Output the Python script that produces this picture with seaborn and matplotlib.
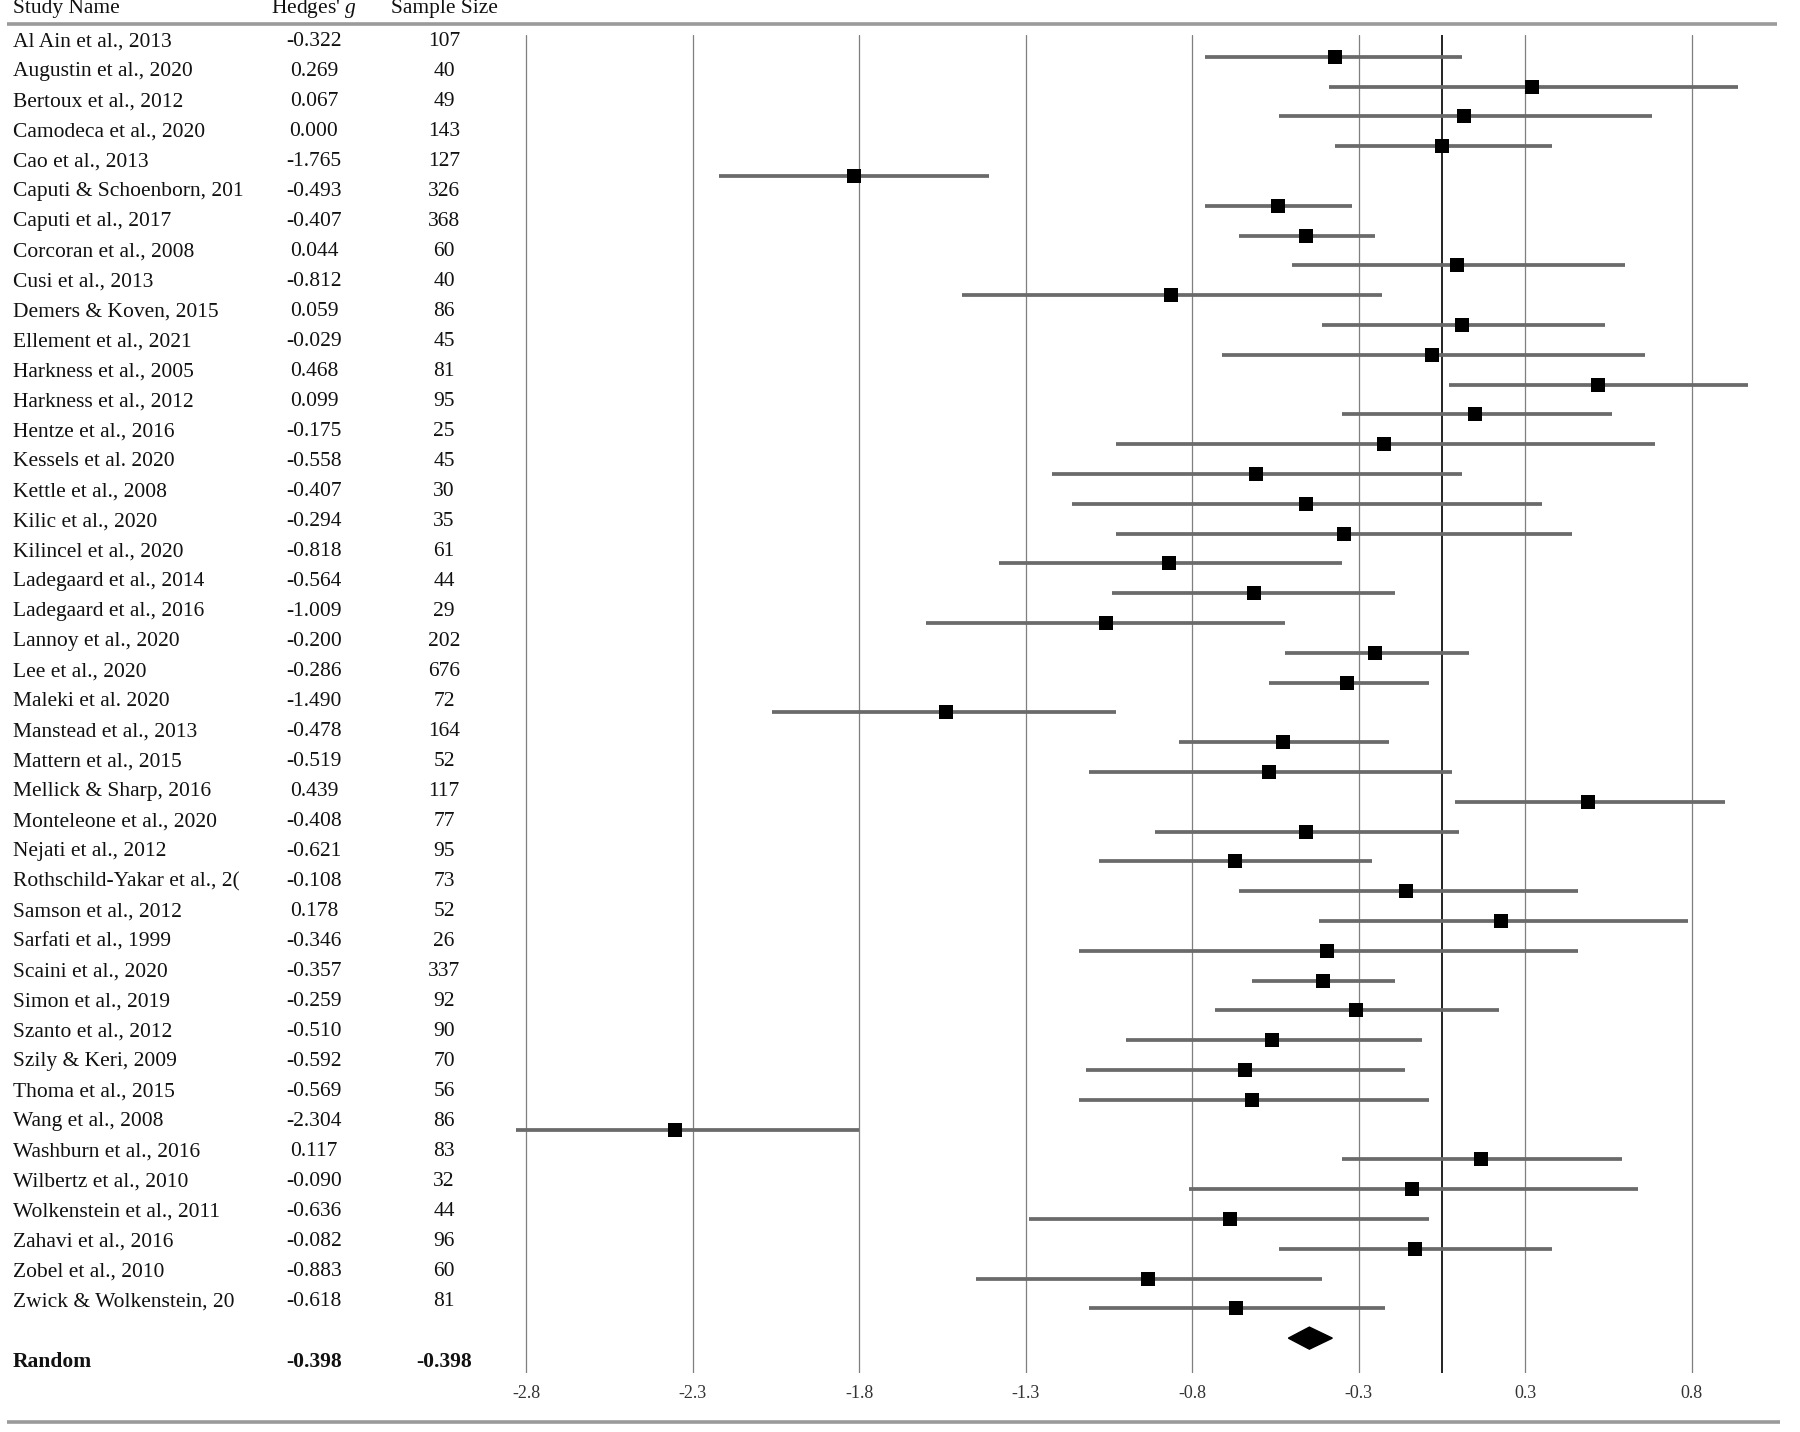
import matplotlib
matplotlib.use("Agg")
import numpy as np
import pandas as pd
import matplotlib.pyplot as plt
import seaborn as sns

# --- dados ---
studies = [
    "Al Ain et al., 2013", "Augustin et al., 2020", "Bertoux et al., 2012",
    "Camodeca et al., 2020", "Cao et al., 2013", "Caputi & Schoenborn, 201",
    "Caputi et al., 2017", "Corcoran et al., 2008", "Cusi et al., 2013",
    "Demers & Koven, 2015", "Ellement et al., 2021", "Harkness et al., 2005",
    "Harkness et al., 2012", "Hentze et al., 2016", "Kessels et al. 2020",
    "Kettle et al., 2008", "Kilic et al., 2020", "Kilincel et al., 2020",
    "Ladegaard et al., 2014", "Ladegaard et al., 2016", "Lannoy et al., 2020",
    "Lee et al., 2020", "Maleki et al. 2020", "Manstead et al., 2013",
    "Mattern et al., 2015", "Mellick & Sharp, 2016", "Monteleone et al., 2020",
    "Nejati et al., 2012", "Rothschild-Yakar et al., 2(", "Samson et al., 2012",
    "Sarfati et al., 1999", "Scaini et al., 2020", "Simon et al., 2019",
    "Szanto et al., 2012", "Szily & Keri, 2009", "Thoma et al., 2015",
    "Wang et al., 2008", "Washburn et al., 2016", "Wilbertz et al., 2010",
    "Wolkenstein et al., 2011", "Zahavi et al., 2016", "Zobel et al., 2010",
    "Zwick & Wolkenstein, 20",
]
hedges_g = [
    -0.322, 0.269, 0.067, 0.000, -1.765, -0.493, -0.407, 0.044, -0.812, 0.059,
    -0.029, 0.468, 0.099, -0.175, -0.558, -0.407, -0.294, -0.818, -0.564, -1.009,
    -0.200, -0.286, -1.490, -0.478, -0.519, 0.439, -0.408, -0.621, -0.108, 0.178,
    -0.346, -0.357, -0.259, -0.510, -0.592, -0.569, -2.304, 0.117, -0.090, -0.636,
    -0.082, -0.883, -0.618,
]
sample_size = [
    107, 40, 49, 143, 127, 326, 368, 60, 40, 86, 45, 81, 95, 25, 45, 30, 35, 61,
    44, 29, 202, 676, 72, 164, 52, 117, 77, 95, 73, 52, 26, 337, 92, 90, 70, 56,
    86, 83, 32, 44, 96, 60, 81,
]
ci_lower = [
    -0.71, -0.34, -0.49, -0.32, -2.17, -0.71, -0.61, -0.45, -1.44, -0.36,
    -0.66, 0.02, -0.30, -0.98, -1.17, -1.11, -0.98, -1.33, -0.99, -1.55,
    -0.47, -0.52, -2.01, -0.79, -1.06, 0.04, -0.86, -1.03, -0.61, -0.37,
    -1.09, -0.57, -0.68, -0.95, -1.07, -1.09, -2.86, -0.30, -0.76, -1.24,
    -0.49, -1.40, -1.06,
]
ci_upper = [
    0.06, 0.89, 0.63, 0.33, -1.36, -0.27, -0.20, 0.55, -0.18, 0.49,
    0.61, 0.92, 0.51, 0.64, 0.06, 0.30, 0.39, -0.30, -0.14, -0.47,
    0.08, -0.04, -0.98, -0.16, 0.03, 0.85, 0.05, -0.21, 0.41, 0.74,
    0.41, -0.14, 0.17, -0.06, -0.11, -0.04, -1.75, 0.54, 0.59, -0.04,
    0.33, -0.36, -0.17,
]
pooled_g = -0.398
pooled_lower = -0.461
pooled_upper = -0.329
pooled_labels = ["-0.398", "-0.398"]

tick_values = [-2.75, -2.25, -1.75, -1.25, -0.75, -0.25, 0.25, 0.75]
tick_labels = ["-2.8", "-2.3", "-1.8", "-1.3", "-0.8", "-0.3", "0.3", "0.8"]

df = pd.DataFrame({"study": studies, "g": hedges_g, "n": sample_size,
                   "lo": ci_lower, "hi": ci_upper})
df["row"] = np.arange(len(df))

# --- estilo ---
sns.set_theme(style="white")
plt.rcParams["font.family"] = ["Liberation Serif", "DejaVu Serif"]
plt.rcParams["mathtext.fontset"] = "custom"
plt.rcParams["mathtext.it"] = "Liberation Serif:italic"
plt.rcParams["mathtext.rm"] = "Liberation Serif"

W, H = 1800, 1432
fig = plt.figure(figsize=(18, 14.32), dpi=100)

# --- tabela (coordenadas em pixels da figura) ---
tab = fig.add_axes([0, 0, 1, 1])
tab.set_xlim(0, W)
tab.set_ylim(H, 0)
tab.axis("off")

txt_color = "#111111"
fs = 15.5
tab.text(13, 8, "Study Name", fontsize=fs, color=txt_color, va="center", ha="left")
tab.text(314, 8, "Hedges' $\\it{g}$", fontsize=fs, color=txt_color, va="center", ha="center")
tab.text(444, 8, "Sample Size", fontsize=fs, color=txt_color, va="center", ha="center")
tab.plot([7, 1777], [24, 24], color="#9a9a9a", lw=2.6, solid_capstyle="butt")
tab.plot([7, 1780], [1422, 1422], color="#9a9a9a", lw=2.6, solid_capstyle="butt")

row_y0, row_step = 41.7, 30.0
for i, r in df.iterrows():
    y = row_y0 + row_step * r["row"]
    tab.text(13, y, r["study"], fontsize=fs, color=txt_color, va="center", ha="left")
    tab.text(314, y, f"{r['g']:.3f}", fontsize=fs, color=txt_color, va="center", ha="center")
    tab.text(444, y, str(int(r["n"])), fontsize=fs, color=txt_color, va="center", ha="center")

y_rand = row_y0 + row_step * (len(df) + 1)
tab.text(13, y_rand, "Random", fontsize=fs, color=txt_color, va="center", ha="left", fontweight="bold")
tab.text(314, y_rand, pooled_labels[0], fontsize=fs, color=txt_color, va="center", ha="center", fontweight="bold")
tab.text(444, y_rand, pooled_labels[1], fontsize=fs, color=txt_color, va="center", ha="center", fontweight="bold")

# --- gráfico de floresta ---
x_left, x_right = 516, 1775
y_top, y_bot = 35, 1373
ax = fig.add_axes([x_left / W, 1 - y_bot / H, (x_right - x_left) / W, (y_bot - y_top) / H])
ax.set_xlim(-2.78, 1.0)
ax.set_ylim(44.17, -0.73)
ax.patch.set_alpha(0)

ax.set_xticks(tick_values)
ax.set_xticklabels(tick_labels)
ax.set_yticks([])
ax.grid(axis="x", color="#7f7f7f", lw=0.9)
ax.axvline(0, color="#222222", lw=1.4, zorder=1)
for s in ax.spines.values():
    s.set_visible(False)
ax.tick_params(axis="x", length=0, pad=9, labelsize=13, labelcolor="#333333")

ax.hlines(df["row"], df["lo"], df["hi"], color="#6a6a6a", lw=2.7, zorder=2)
sns.scatterplot(data=df, x="g", y="row", marker="s", s=105, color="black",
                edgecolor="black", linewidth=0, ax=ax, zorder=3, legend=False)

r_pool = len(df)
ax.fill([pooled_lower, pooled_g, pooled_upper, pooled_g],
        [r_pool, r_pool - 0.37, r_pool, r_pool + 0.37], color="black", zorder=3)
ax.set_xlabel("")
ax.set_ylabel("")

fig.savefig("out.png", dpi=100)
